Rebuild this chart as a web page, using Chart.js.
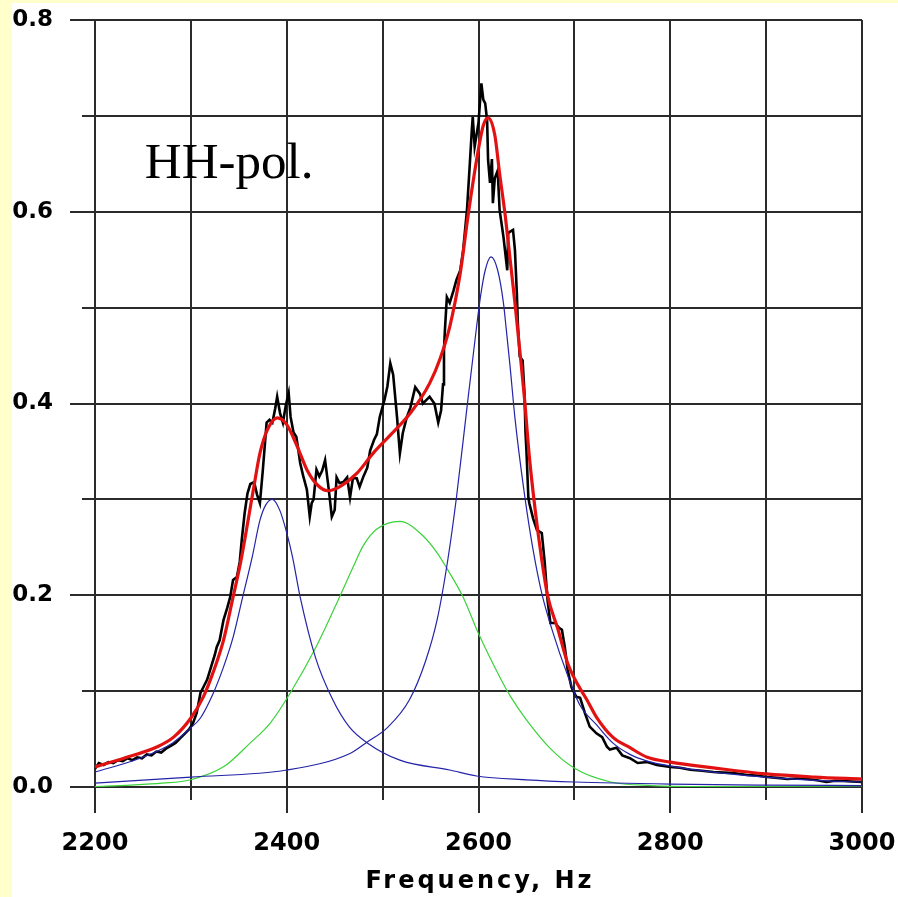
<!DOCTYPE html>
<html><head><meta charset="utf-8">
<script src="https://cdn.jsdelivr.net/npm/chart.js@4.4.1/dist/chart.umd.min.js"></script>
<style>
html,body{margin:0;padding:0;background:#ffffcc;width:898px;height:897px;overflow:hidden}
#wrap{position:absolute;left:12px;top:3px;width:886px;height:894px;background:#fff}
</style></head><body>
<div id="wrap"><canvas id="c" width="886" height="894"></canvas></div>
<script>
// ---- data (frequency Hz, amplitude) ----
const xTickLabels = ['2200','2400','2600','2800','3000'];
const yTickLabels = ['0.0','0.2','0.4','0.6','0.8'];
const xTitle = 'Frequency, Hz';
const panelLabel = 'HH-pol.';

const measured = [
[2200,0.019],[2204,0.025],[2209,0.023],[2214,0.026],[2219,0.025],[2224,0.028],[2229,0.027],[2234,0.030],
[2239,0.028],[2244,0.031],[2249,0.030],[2254,0.034],[2259,0.033],[2264,0.037],[2269,0.036],[2274,0.040],
[2279,0.043],[2284,0.046],[2289,0.051],[2294,0.056],[2298,0.060],[2302,0.066],[2306,0.077],[2310,0.098],
[2313,0.104],[2317,0.112],[2321,0.125],[2325,0.138],[2327,0.146],[2330,0.153],[2334,0.174],[2338,0.187],
[2341,0.198],[2344,0.216],[2348,0.219],[2351,0.235],[2353,0.257],[2356,0.285],[2359,0.306],[2362,0.316],
[2366,0.318],[2369,0.305],[2372,0.296],[2375,0.330],[2379,0.380],[2382,0.383],[2385,0.380],[2388,0.395],
[2390,0.407],[2393,0.390],[2396,0.380],[2399,0.398],[2402,0.411],[2404,0.386],[2407,0.370],[2410,0.365],
[2412,0.352],[2414,0.338],[2417,0.325],[2421,0.310],[2424,0.282],[2426,0.296],[2428,0.300],[2431,0.331],
[2434,0.324],[2437,0.330],[2440,0.341],[2443,0.317],[2445,0.300],[2447,0.282],[2450,0.289],[2452,0.323],
[2455,0.317],[2459,0.318],[2463,0.323],[2466,0.302],[2469,0.322],[2473,0.322],[2476,0.313],[2480,0.324],
[2484,0.333],[2487,0.351],[2491,0.362],[2494,0.368],[2497,0.386],[2502,0.404],[2505,0.418],[2508,0.442],
[2511,0.430],[2515,0.386],[2518,0.348],[2521,0.369],[2525,0.385],[2529,0.396],[2534,0.417],[2539,0.410],
[2542,0.400],[2546,0.404],[2549,0.407],[2554,0.400],[2558,0.380],[2561,0.393],[2563,0.420],[2564,0.456],
[2565,0.477],[2567,0.511],[2570,0.505],[2574,0.518],[2577,0.529],[2581,0.539],[2584,0.560],[2588,0.602],
[2591,0.651],[2593,0.685],[2594,0.699],[2596,0.668],[2600,0.693],[2603,0.734],[2605,0.717],[2607,0.713],
[2609,0.695],[2610,0.654],[2612,0.630],[2614,0.655],[2615,0.609],[2617,0.635],[2620,0.643],[2622,0.602],
[2626,0.574],[2630,0.539],[2631,0.578],[2636,0.581],[2638,0.560],[2640,0.515],[2641,0.484],[2643,0.449],
[2646,0.445],[2648,0.410],[2649,0.370],[2650,0.351],[2652,0.302],[2653,0.296],[2657,0.280],[2661,0.268],
[2666,0.265],[2669,0.235],[2672,0.195],[2675,0.171],[2680,0.171],[2684,0.166],[2687,0.164],[2690,0.146],
[2693,0.122],[2697,0.104],[2702,0.094],[2706,0.093],[2711,0.077],[2716,0.063],[2723,0.056],[2729,0.052],
[2734,0.042],[2737,0.039],[2744,0.041],[2750,0.033],[2758,0.030],[2766,0.025],[2776,0.026],[2786,0.023],
[2800,0.021],[2810,0.020],[2821,0.018],[2833,0.017],[2845,0.0156],[2856,0.015],[2866,0.0146],[2880,0.0125],
[2890,0.012],[2901,0.0104],[2912,0.0095],[2922,0.0083],[2932,0.0088],[2943,0.0083],[2953,0.007],[2963,0.0052],
[2972,0.0065],[2980,0.0063],[2990,0.0058],[3000,0.0052]
];

const fitTotal = [
[2200,0.021],[2230,0.030],[2265,0.042],[2282,0.052],[2300,0.072],[2313,0.094],[2323,0.119],[2334,0.153],
[2344,0.198],[2352,0.235],[2360,0.280],[2366,0.315],[2372,0.348],[2380,0.373],[2390,0.385],[2400,0.378],
[2411,0.355],[2421,0.331],[2432,0.315],[2443,0.309],[2455,0.313],[2473,0.327],[2490,0.348],[2508,0.367],
[2529,0.390],[2549,0.421],[2560,0.447],[2570,0.480],[2581,0.536],[2589,0.595],[2598,0.654],[2605,0.690],
[2610,0.698],[2617,0.680],[2622,0.640],[2628,0.595],[2633,0.550],[2638,0.505],[2643,0.456],[2648,0.405],
[2653,0.345],[2659,0.290],[2666,0.237],[2672,0.200],[2683,0.164],[2693,0.129],[2704,0.106],[2713,0.091],
[2723,0.073],[2740,0.052],[2758,0.041],[2776,0.031],[2800,0.026],[2845,0.020],[2900,0.0136],[2950,0.0104],
[3000,0.0083]
];

const peakLow = [
[2200,0.0156],[2247,0.030],[2281,0.046],[2299,0.061],[2310,0.072],[2323,0.097],[2334,0.125],[2344,0.156],
[2354,0.198],[2364,0.240],[2372,0.278],[2378,0.294],[2385,0.300],[2393,0.288],[2400,0.265],[2406,0.240],
[2414,0.198],[2430,0.135],[2448,0.091],[2465,0.063],[2484,0.046],[2518,0.028],[2570,0.0177],[2598,0.0115],
[2650,0.0075],[2700,0.0052],[2800,0.003],[2900,0.002],[3000,0.0015]
];

const peakHigh = [
[2200,0.004],[2300,0.0104],[2400,0.0177],[2466,0.035],[2484,0.047],[2505,0.062],[2528,0.091],[2545,0.132],
[2557,0.175],[2568,0.237],[2577,0.302],[2588,0.396],[2598,0.480],[2602,0.511],[2607,0.539],[2613,0.553],
[2620,0.539],[2626,0.505],[2629,0.477],[2633,0.438],[2638,0.385],[2648,0.305],[2657,0.247],[2666,0.202],
[2678,0.160],[2692,0.119],[2706,0.085],[2723,0.065],[2740,0.046],[2758,0.034],[2776,0.027],[2799,0.022],
[2845,0.0156],[2899,0.0104],[2950,0.007],[3000,0.0052]
];

const peakMid = [
[2200,0.0005],[2237,0.002],[2270,0.004],[2299,0.0073],[2334,0.021],[2362,0.046],[2383,0.067],[2403,0.097],
[2430,0.145],[2455,0.198],[2469,0.229],[2480,0.252],[2494,0.269],[2518,0.277],[2542,0.262],[2557,0.244],
[2567,0.228],[2584,0.198],[2600,0.160],[2622,0.115],[2633,0.095],[2650,0.070],[2675,0.040],[2701,0.019],
[2737,0.0055],[2780,0.0015],[2850,0.0003],[3000,0]
];

const GRID = '#2b2b2b';
const toPts = arr => arr.map(p => ({x:p[0], y:p[1]}));
const fmtY = v => v.toFixed(1);

const decor = {
  id:'decor',
  afterDraw(chart){
    const {ctx, chartArea:a, scales:{x,y}} = chart;
    ctx.save();
    ctx.strokeStyle = GRID; ctx.lineWidth = 2;
    y.ticks.forEach(t => {
      const py = Math.round(y.getPixelForValue(t.value));
      const major = yTickLabels.includes(fmtY(t.value));
      ctx.beginPath(); ctx.moveTo(a.left - (major ? 25 : 13), py); ctx.lineTo(a.left, py); ctx.stroke();
    });
    x.ticks.forEach(t => {
      const px = Math.round(x.getPixelForValue(t.value));
      const major = xTickLabels.includes(String(t.value));
      ctx.beginPath(); ctx.moveTo(px, a.bottom); ctx.lineTo(px, a.bottom + (major ? 26 : 13)); ctx.stroke();
    });
    ctx.fillStyle = '#000';
    ctx.font = 'bold 24px "DejaVu Sans"';
    ctx.textAlign = 'center'; ctx.textBaseline = 'alphabetic';
    ctx.letterSpacing = '3px';
    ctx.fillText(xTitle, (a.left + a.right)/2 + 1.5, a.bottom + 101);
    ctx.letterSpacing = '0px';
    ctx.font = '51px "Liberation Serif"';
    ctx.textAlign = 'left';
    ctx.fillText(panelLabel, x.getPixelForValue(2252), y.getPixelForValue(0.635));
    ctx.restore();
  }
};

new Chart(document.getElementById('c'), {
  type:'line',
  data:{datasets:[
    {label:'fit', data:toPts(fitTotal), borderColor:'#e31212', borderWidth:3.2, pointRadius:0, cubicInterpolationMode:'monotone', fill:false},
    {label:'peak1', data:toPts(peakLow), borderColor:'#2424a8', borderWidth:1.2, pointRadius:0, cubicInterpolationMode:'monotone', fill:false},
    {label:'peak3', data:toPts(peakHigh), borderColor:'#2424a8', borderWidth:1.2, pointRadius:0, cubicInterpolationMode:'monotone', fill:false},
    {label:'peak2', data:toPts(peakMid), borderColor:'#3ad23a', borderWidth:1.2, pointRadius:0, cubicInterpolationMode:'monotone', fill:false},
    {label:'data', data:toPts(measured), borderColor:'#000000', borderWidth:2.6, pointRadius:0, tension:0, fill:false}
  ]},
  options:{
    responsive:false, animation:false,
    layout:{padding:{left:0, right:36, top:17, bottom:0}},
    plugins:{legend:{display:false}, tooltip:{enabled:false}},
    scales:{
      x:{type:'linear', min:2200, max:3000,
        border:{display:false},
        grid:{color:GRID, lineWidth:2, drawTicks:true, tickLength:42, tickColor:'rgba(0,0,0,0)'},
        ticks:{stepSize:100, autoSkip:false, maxRotation:0, padding:0, color:'#000',
          font:{family:'DejaVu Sans', weight:'bold', size:24},
          callback:v => xTickLabels.includes(String(v)) ? String(v) : ''},
        afterFit:s => { s.height = 110; }
      },
      y:{type:'linear', min:0, max:0.8,
        border:{display:false},
        grid:{color:GRID, lineWidth:2, drawTicks:true, tickLength:42, tickColor:'rgba(0,0,0,0)'},
        ticks:{stepSize:0.1, autoSkip:false, padding:0, color:'#000',
          font:{family:'DejaVu Sans', weight:'bold', size:23},
          callback:v => yTickLabels.includes(fmtY(v)) ? fmtY(v) : ''},
        afterFit:s => { s.width = 83; }
      }
    }
  },
  plugins:[decor]
});
</script>
</body></html>
